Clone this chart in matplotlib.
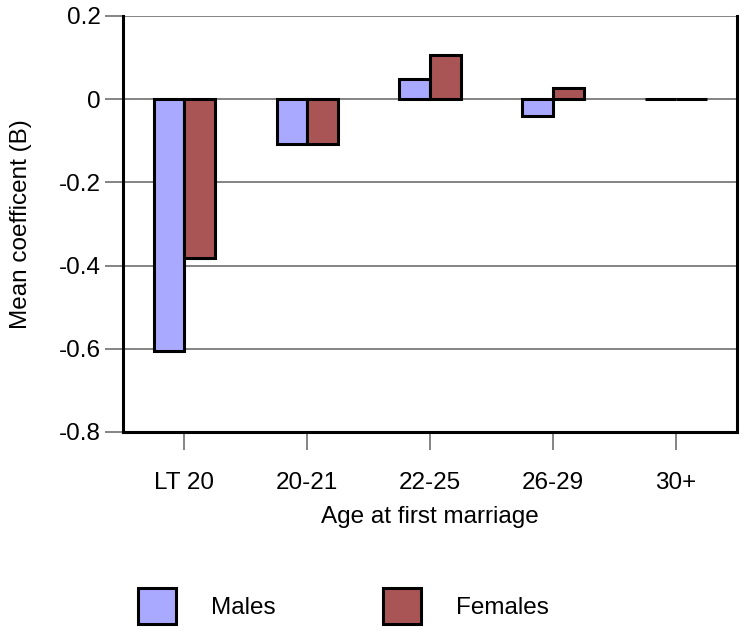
import matplotlib
matplotlib.use("Agg")
import matplotlib.pyplot as plt
import numpy as np

categories = ["LT 20", "20-21", "22-25", "26-29", "30+"]
males = [-0.606, -0.108, 0.048, -0.041, 0.0]
females = [-0.382, -0.108, 0.106, 0.026, 0.0]
yticks = [0.2, 0, -0.2, -0.4, -0.6, -0.8]
ytick_labels = ["0.2", "0", "-0.2", "-0.4", "-0.6", "-0.8"]

plt.rcParams['font.family'] = ['Liberation Sans', 'DejaVu Sans']
FS = 17.5

fig = plt.figure(figsize=(7.5, 6.32), dpi=100)
ax = fig.add_axes([0.164, 0.3165, 0.819, 0.6585])

x = np.arange(len(categories))
w = 0.25
c_m = "#A9A9FF"
c_f = "#AA5555"
bm = ax.bar(x - w/2, males, w, color=c_m, edgecolor="black", linewidth=2.2, label="Males", zorder=3)
bf = ax.bar(x + w/2, females, w, color=c_f, edgecolor="black", linewidth=2.2, label="Females", zorder=3)

ax.set_xlim(-0.5, 4.5)
ax.set_ylim(-0.8, 0.2)
ax.set_yticks(yticks)
ax.set_yticklabels(ytick_labels)
ax.set_xticks(x)
ax.set_xticklabels(categories)
ax.yaxis.grid(True, color="#707070", linewidth=1.2, zorder=0)
ax.set_axisbelow(True)

for s in ["left", "right", "bottom"]:
    ax.spines[s].set_linewidth(2.2)
    ax.spines[s].set_color("black")
ax.spines["top"].set_visible(False)

ax.tick_params(axis="both", direction="out", length=13, width=1.2, color="#707070",
               labelsize=FS, pad=3)
ax.tick_params(axis="x", pad=16)

ax.set_xlabel("Age at first marriage", fontsize=FS)
ax.set_ylabel("Mean coefficent (B)", fontsize=FS)
ax.xaxis.set_label_coords(0.5, -0.178)
ax.yaxis.set_label_coords(-0.148, 0.5)

common = dict(loc="center left", ncol=1, frameon=False, fontsize=FS,
              handlelength=1.56, handleheight=1.9, handletextpad=1.45,
              borderpad=0, borderaxespad=0)
fig.legend(handles=[bm], labels=["Males"], bbox_to_anchor=(0.184, 0.041), **common)
fig.legend(handles=[bf], labels=["Females"], bbox_to_anchor=(0.511, 0.041), **common)

fig.savefig("out.png", dpi=100)
